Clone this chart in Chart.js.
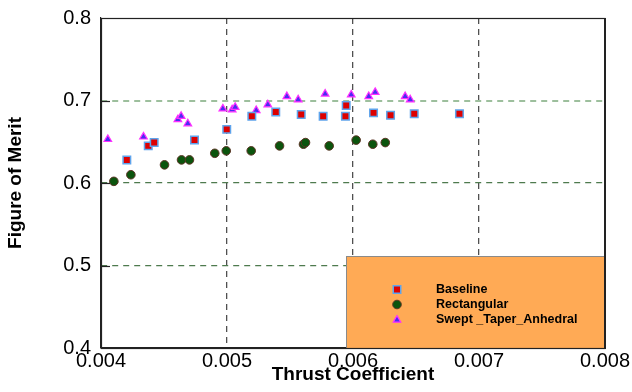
<!DOCTYPE html>
<html>
<head>
<meta charset="utf-8">
<script src="https://cdn.jsdelivr.net/npm/chart.js@4/dist/chart.umd.min.js"></script>
<style>
  html, body { margin: 0; padding: 0; background: #ffffff; }
  #wrap { width: 632px; height: 392px; }
</style>
</head>
<body>
<div id="wrap"><canvas id="fom" width="632" height="392"></canvas></div>
<script>
// Rotor hover performance: figure of merit against thrust coefficient
const baselineCT = [0.004205, 0.004375, 0.004422, 0.004742, 0.004998, 0.005197, 0.005387, 0.005589,
                    0.005763, 0.005946, 0.005940, 0.006163, 0.006298, 0.006486, 0.006845];
const baselineFM = [0.628, 0.645, 0.649, 0.652, 0.665, 0.681, 0.686, 0.683,
                    0.681, 0.694, 0.681, 0.685, 0.682, 0.684, 0.684];

const rectCT = [0.004102, 0.004237, 0.004504, 0.004639, 0.004702, 0.004903, 0.004994, 0.005192,
                0.005417, 0.005607, 0.005623, 0.005811, 0.006025, 0.006157, 0.006256];
const rectFM = [0.602, 0.610, 0.622, 0.628, 0.628, 0.636, 0.639, 0.639,
                0.645, 0.647, 0.649, 0.645, 0.652, 0.647, 0.649];

const sweptCT = [0.004054, 0.004337, 0.004610, 0.004636, 0.004689, 0.004967, 0.005041, 0.005065,
                 0.005232, 0.005324, 0.005475, 0.005565, 0.005779, 0.005986, 0.006125, 0.006176,
                 0.006414, 0.006454];
const sweptFM = [0.653, 0.656, 0.677, 0.681, 0.672, 0.690, 0.689, 0.692,
                 0.688, 0.695, 0.705, 0.701, 0.708, 0.707, 0.705, 0.710,
                 0.705, 0.701];

const seriesNames = ['Baseline', 'Rectangular', 'Swept _Taper_Anhedral'];

const xTickValues = [0.004, 0.005, 0.006, 0.007, 0.008];
const xTickLabels = ['0.004', '0.005', '0.006', '0.007', '0.008'];
const yTickValues = [0.4, 0.5, 0.6, 0.7, 0.8];
const yTickLabels = ['0.4', '0.5', '0.6', '0.7', '0.8'];

const toPoints = (xs, ys) => xs.map((x, i) => ({ x: x, y: ys[i] }));

const FONT = "'Liberation Sans', Arial, Helvetica, sans-serif";

// Short inward tick marks on the left axis, legend box, and the closed frame
const framePlugin = {
  id: 'framePlugin',
  afterDraw(chart) {
    const { ctx, chartArea: a, scales } = chart;
    ctx.save();

    // inward ticks on the value axis
    ctx.strokeStyle = '#222';
    ctx.lineWidth = 1.2;
    yTickValues.slice(1, -1).forEach(v => {
      const y = Math.round(scales.y.getPixelForValue(v)) + 0.5;
      ctx.beginPath();
      ctx.moveTo(a.left, y);
      ctx.lineTo(a.left + 9, y);
      ctx.stroke();
    });

    // legend box
    const bx = a.right - 259, by = a.bottom - 92;
    ctx.fillStyle = '#ffaa55';
    ctx.fillRect(bx, by, a.right - bx, a.bottom - by);
    ctx.strokeStyle = '#8a8a8a';
    ctx.lineWidth = 1;
    ctx.strokeRect(bx + 0.5, by + 0.5, a.right - bx, a.bottom - by);

    const rowsY = [by + 33.5, by + 48.5, by + 64];
    chart.data.datasets.forEach((ds, i) => {
      ctx.fillStyle = ds.backgroundColor;
      ctx.strokeStyle = ds.borderColor;
      ctx.lineWidth = ds.borderWidth;
      Chart.helpers.drawPoint(ctx, {
        pointStyle: ds.pointStyle,
        radius: ds.pointRadius,
        borderWidth: ds.borderWidth,
        rotation: 0
      }, bx + 51, rowsY[i]);
      ctx.fillStyle = '#000';
      ctx.font = "bold 12.5px " + FONT;
      ctx.textBaseline = 'middle';
      ctx.textAlign = 'left';
      ctx.fillText(ds.label, bx + 90, rowsY[i]);
    });

    // frame around the plotting area
    ctx.strokeStyle = '#222';
    ctx.lineWidth = 1.2;
    ctx.strokeRect(a.left + 0.5, a.top + 0.5, a.right - a.left - 0.5, a.bottom - a.top);
    ctx.lineWidth = 2;
    ctx.beginPath();
    ctx.moveTo(a.right, a.top);
    ctx.lineTo(a.right, a.bottom + 1);
    ctx.stroke();
    ctx.restore();
  }
};

const roundKey = (v, k) => Math.round(v * k);

new Chart(document.getElementById('fom'), {
  type: 'scatter',
  data: {
    datasets: [
      {
        label: seriesNames[0],
        data: toPoints(baselineCT, baselineFM),
        pointStyle: 'rect',
        pointRadius: 5.3,
        backgroundColor: '#dd0000',
        borderColor: '#5fa4ec',
        borderWidth: 1.5
      },
      {
        label: seriesNames[1],
        data: toPoints(rectCT, rectFM),
        pointStyle: 'circle',
        pointRadius: 4.3,
        backgroundColor: '#0b540d',
        borderColor: '#5a3324',
        borderWidth: 1
      },
      {
        label: seriesNames[2],
        data: toPoints(sweptCT, sweptFM),
        pointStyle: 'triangle',
        pointRadius: 4.4,
        backgroundColor: '#4a2cf2',
        borderColor: '#ff30ff',
        borderWidth: 1.2
      }
    ]
  },
  options: {
    responsive: false,
    animation: false,
    layout: { padding: { top: 18, right: 27, left: 0, bottom: 0 } },
    plugins: {
      legend: { display: false },
      tooltip: { enabled: false }
    },
    scales: {
      x: {
        type: 'linear',
        min: 0.004,
        max: 0.008,
        afterBuildTicks: s => { s.ticks = xTickValues.map(v => ({ value: v })); },
        afterFit: s => { s.height = 44; },
        grid: {
          drawTicks: false,
          color: c => {
            const k = roundKey(c.tick.value, 1000);
            return (k > 4 && k < 8) ? '#505050' : 'rgba(0,0,0,0)';
          },
          lineWidth: 1.3
        },
        border: { display: true, color: '#222', width: 1.2, dash: [6, 5] },
        ticks: {
          padding: 1,
          color: '#000',
          font: { family: FONT, size: 20 },
          maxRotation: 0,
          callback: (v, i) => xTickLabels[i]
        },
        title: {
          display: true,
          text: 'Thrust Coefficient',
          color: '#000',
          font: { family: FONT, size: 19, weight: 'bold' },
          padding: { top: 0, bottom: 6 }
        }
      },
      y: {
        type: 'linear',
        min: 0.4,
        max: 0.8,
        afterBuildTicks: s => { s.ticks = yTickValues.map(v => ({ value: v })); },
        afterFit: s => { s.width = 101; s.paddingTop = 12; s.paddingBottom = 12; },
        grid: {
          drawTicks: false,
          color: c => {
            const k = roundKey(c.tick.value, 10);
            if (k === 7) return '#9dbf9d';
            if (k === 5 || k === 6) return '#4e7a4e';
            return 'rgba(0,0,0,0)';
          },
          lineWidth: c => (roundKey(c.tick.value, 10) === 7 ? 2 : 1.2)
        },
        border: { display: true, color: '#222', width: 1.2, dash: [6, 5] },
        ticks: {
          padding: 10,
          color: '#000',
          font: { family: FONT, size: 20 },
          callback: (v, i) => yTickLabels[i]
        },
        title: {
          display: true,
          text: 'Figure of Merit',
          color: '#000',
          font: { family: FONT, size: 19, weight: 'bold' },
          padding: { top: 4, bottom: 0 }
        }
      }
    }
  },
  plugins: [framePlugin]
});
</script>
</body>
</html>
